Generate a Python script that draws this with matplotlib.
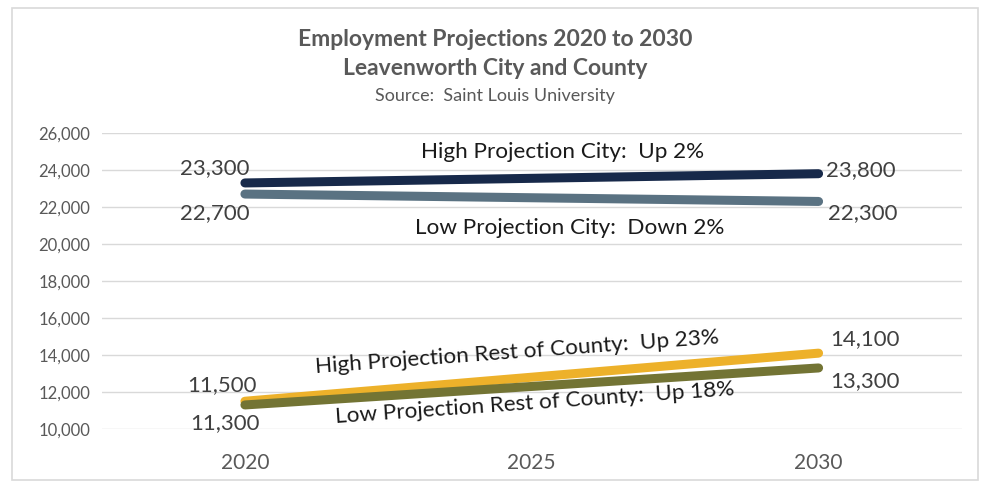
import matplotlib.pyplot as plt
from matplotlib.patches import Rectangle

years = ['2020', '2025', '2030']
ends = [0, 2]  # projections only have a start and end year

high_city = [23300, 23800]
low_city = [22700, 22300]
high_county = [11500, 14100]
low_county = [11300, 13300]

yticks = list(range(10000, 26001, 2000))

W, H = 985, 483
plt.rcParams['font.family'] = ['Lato', 'DejaVu Sans']

fig = plt.figure(figsize=(W / 100, H / 100), dpi=100)
ax = fig.add_axes([101.5 / W, 1 - 429 / H, (962 - 101.5) / W, (429 - 133) / H])


def fx(px):
    return px / W


def fy(py):
    return 1 - py / H


# outer chart border
fig.patches.append(Rectangle((fx(12), fy(480)), fx(966), (480 - 8) / H,
                             transform=fig.transFigure, fill=False,
                             edgecolor='#d9d9d9', linewidth=1.2))

series = [
    (high_city, '#17294a', [(-30, 15), (42, 4)]),
    (low_city, '#5a7282', [(-30, -19), (44, -12)]),
    (high_county, '#edb12a', [(-23, 16), (46, 14)]),
    (low_county, '#737434', [(-20, -18), (46, -13)]),
]

for vals, color, offs in series:
    ax.plot(ends, vals, color=color, linewidth=6.5, solid_capstyle='round', zorder=3)
    for x, v, (dx, dy) in zip(ends, vals, offs):
        ax.annotate(f'{v:,}', (x, v), xytext=(dx * 0.72, dy * 0.72),
                    textcoords='offset points', ha='center', va='center',
                    fontsize=16, color='#404040')

ax.set_xlim(-0.5, 2.5)
ax.set_ylim(10000, 26000)
ax.set_xticks(range(len(years)))
ax.set_xticklabels(years)
ax.set_yticks(yticks)
ax.set_yticklabels([f'{t:,}' for t in yticks])
ax.tick_params(axis='both', length=0, colors='#595959')
ax.tick_params(axis='y', labelsize=12, pad=8)
ax.tick_params(axis='x', labelsize=15, pad=17)
ax.grid(axis='y', color='#d9d9d9', linewidth=1)
ax.set_axisbelow(True)
for s in ax.spines.values():
    s.set_visible(False)

fig.text(fx(495), fy(40), 'Employment Projections 2020 to 2030', ha='center',
         va='center', fontsize=16.5, fontweight='bold', color='#595959')
fig.text(fx(495), fy(69), 'Leavenworth City and County', ha='center',
         va='center', fontsize=16.5, fontweight='bold', color='#595959')
fig.text(fx(495), fy(96), 'Source:  Saint Louis University', ha='center',
         va='center', fontsize=13, color='#595959')

fig.text(fx(563), fy(152), 'High Projection City:  Up 2%', ha='center',
         va='center', fontsize=16.2, color='#1a1a1a')
fig.text(fx(570), fy(228), 'Low Projection City:  Down 2%', ha='center',
         va='center', fontsize=16.2, color='#1a1a1a')
fig.text(fx(517), fy(352), 'High Projection Rest of County:  Up 23%', ha='center',
         va='center', fontsize=16.2, color='#1a1a1a', rotation=4.2,
         rotation_mode='anchor')
fig.text(fx(535), fy(403), 'Low Projection Rest of County:  Up 18%', ha='center',
         va='center', fontsize=16.2, color='#1a1a1a', rotation=4,
         rotation_mode='anchor')

fig.savefig('out.png', dpi=100)
